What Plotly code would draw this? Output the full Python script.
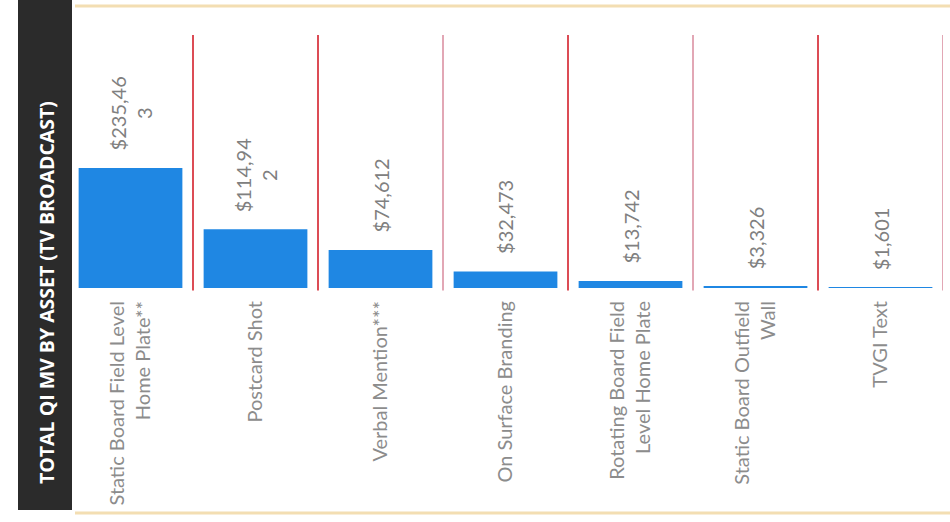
import plotly.graph_objects as go

categories = [
    "Static Board Field Level<br>Home Plate**",
    "Postcard Shot",
    "Verbal Mention***",
    "On Surface Branding",
    "Rotating Board Field<br>Level Home Plate",
    "Static Board Outfield<br>Wall",
    "TVGI Text",
]
values = [235463, 114942, 74612, 32473, 13742, 3326, 1601]
value_labels = ["$235,46<br>3", "$114,94<br>2", "$74,612", "$32,473", "$13,742", "$3,326", "$1,601"]
title_text = "TOTAL QI MV BY ASSET (TV BROADCAST)"
separator_colors = ["#d0101c", "#d0101c", "#d98a9c", "#d0101c", "#d98a9c", "#d0101c", "#d98a9c"]

W, H = 950, 522
ML, MR, MT, MB = 68, 7, 35, 234
pw = W - ML - MR
ph = H - MT - MB

def px_x(p):
    return (p - ML) / pw

def px_y(p):
    return (H - MB - p) / ph

fig = go.Figure(go.Bar(
    x=list(range(len(categories))),
    y=values,
    marker=dict(color="#1f87e3", line=dict(width=0)),
    width=0.83,
    hoverinfo="skip",
))

shapes = []
for i, c in enumerate(separator_colors):
    shapes.append(dict(type="line", xref="x", yref="paper", x0=i + 0.5, x1=i + 0.5,
                       y0=-0.01, y1=1.0, line=dict(color=c, width=1.5)))
# dark title band
shapes.append(dict(type="rect", xref="paper", yref="paper",
                   x0=px_x(18), x1=px_x(72), y0=px_y(510), y1=px_y(0),
                   fillcolor="#2b2b2b", line=dict(width=0), layer="above"))
# faint orange frame lines
shapes.append(dict(type="line", xref="paper", yref="paper",
                   x0=px_x(75), x1=px_x(950), y0=px_y(6), y1=px_y(6),
                   line=dict(color="#f3deb2", width=3)))
shapes.append(dict(type="line", xref="paper", yref="paper",
                   x0=px_x(75), x1=px_x(950), y0=px_y(513), y1=px_y(513),
                   line=dict(color="#f3deb2", width=3)))

annotations = [dict(
    text="<b>" + title_text + "</b>",
    xref="paper", yref="paper",
    x=px_x(46), y=px_y(293),
    textangle=-90, showarrow=False,
    font=dict(family="Open Sans", size=19.5, color="white"),
    xanchor="center", yanchor="middle",
)]
for i, (v, lab) in enumerate(zip(values, value_labels)):
    annotations.append(dict(
        text=lab, x=i, y=v, xref="x", yref="y",
        textangle=-90, showarrow=False,
        xanchor="center", yanchor="bottom", yshift=15,
        font=dict(family="Lato", size=20, color="#808080"),
    ))

fig.update_layout(
    width=W, height=H,
    margin=dict(l=ML, r=MR, t=MT, b=MB),
    paper_bgcolor="white", plot_bgcolor="white",
    showlegend=False,
    shapes=shapes,
    annotations=annotations,
    xaxis=dict(
        range=[-0.5, len(categories) - 0.5],
        tickmode="array",
        tickvals=list(range(len(categories))),
        ticktext=categories,
        tickangle=-90,
        ticklabelstandoff=8,
        tickfont=dict(family="Lato", size=20, color="#8c8c8c"),
        showgrid=False, zeroline=False, showline=False, ticks="",
    ),
    yaxis=dict(range=[0, 496000], visible=False, showgrid=False),
)

fig.write_html("out.html", config={"displayModeBar": False},
               post_script="document.body.style.margin='0';")
